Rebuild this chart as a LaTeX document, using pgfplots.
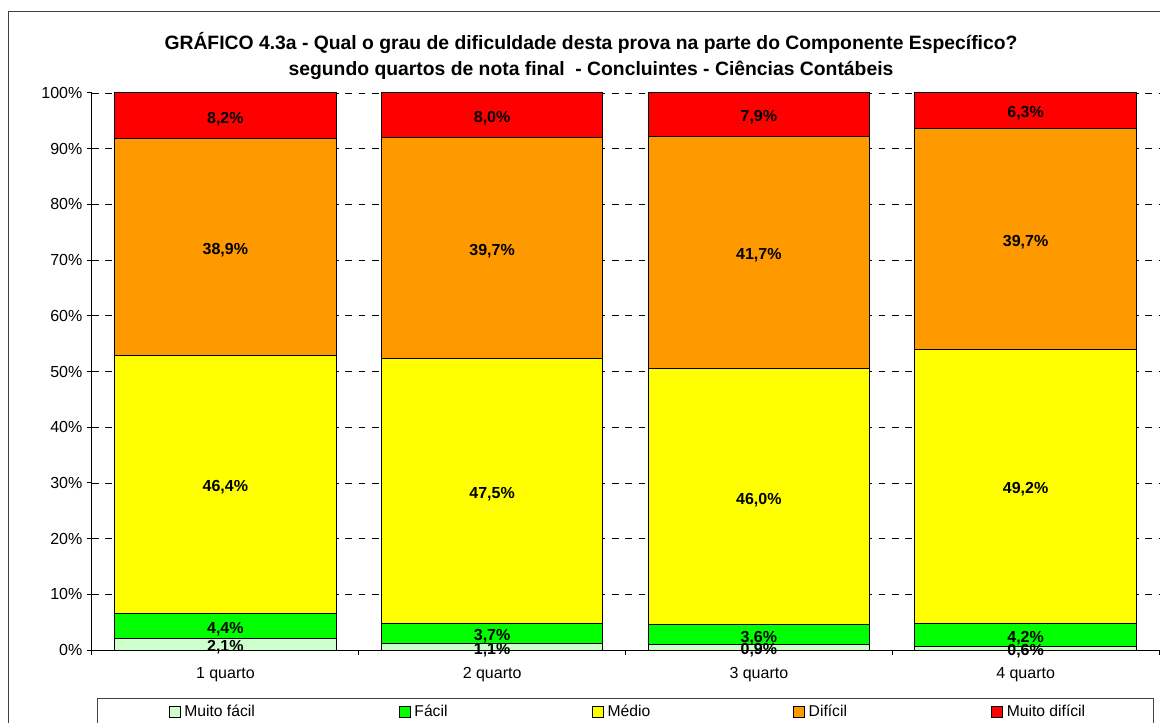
\documentclass[border=0pt]{standalone}
\usepackage{pgfplots}
\usepackage{pgfplotstable}
\pgfplotsset{compat=1.18}
\usepackage{fontspec}
\setmainfont{Liberation Sans}
\definecolor{cMF}{HTML}{CCFFCC}
\definecolor{cF}{HTML}{00FF00}
\definecolor{cM}{HTML}{FFFF00}
\definecolor{cD}{HTML}{FF9900}
\definecolor{cMD}{HTML}{FF0000}
\pgfplotstableread{
x mf f m d md
0 2.1 4.4 46.4 38.9 8.2
1 1.1 3.7 47.5 39.7 8.0
2 0.9 3.6 46.0 41.7 7.9
3 0.6 4.2 49.2 39.7 6.3
}\data
\pgfplotsset{sqlegend/.style={legend image code/.code={\draw[##1,draw=black,line width=0.6pt] (0pt,-4pt) rectangle (8pt,4pt);}}}
\begin{document}
\begin{tikzpicture}
\path[use as bounding box, clip] (0pt,0pt) rectangle (870pt,541.5pt);
\draw[line width=0.75pt, black!75] (6pt,532.5pt) rectangle (900pt,-30pt);
\begin{axis}[
  at={(69pt,54pt)}, anchor=south west,
  scale only axis, width=800.25pt, height=417.75pt,
  ybar stacked, bar width=0.83,
  xmin=-0.5, xmax=3.5, ymin=0, ymax=100, clip=false,
  axis x line*=bottom, axis y line*=left,
  axis line style={-, black, line width=0.75pt},
  tick align=outside, major tick length=3.75pt,
  tick style={black, line width=0.75pt},
  xtick={-0.5,0.5,1.5,2.5,3.5}, xticklabels={,,,,},
  extra x ticks={0,1,2,3},
  extra x tick labels={1 quarto,2 quarto,3 quarto,4 quarto},
  extra x tick style={major tick length=0pt, grid=none},
  xticklabel style={yshift=-9.5pt},
  ytick={0,10,...,100},
  yticklabels={0\%,10\%,20\%,30\%,40\%,50\%,60\%,70\%,80\%,90\%,100\%},
  ymajorgrids, major grid style={black, line width=0.6pt, dash pattern=on 5pt off 5pt},
  ticklabel style={font=\fontsize{12}{14}\selectfont},
  nodes near coords={\pgfmathprintnumber[fixed,fixed zerofill,precision=1,use comma,assume math mode=true]{\rawy}\%},
  visualization depends on={rawy \as \rawy},
  every node near coord/.append style={font=\bfseries\fontsize{12}{14}\selectfont, anchor=center, yshift=-2.25pt},
  legend columns=5,
  legend style={at={(0.0047,-0.0862)}, anchor=north west, draw=black!75, line width=0.75pt,
    inner xsep=53.5pt, inner ysep=3pt, font=\fontsize{11.75}{13}\selectfont,
    /tikz/every even column/.append style={column sep=0pt},
    /tikz/every odd column/.append style={column sep=0pt},
    nodes={inner xsep=3pt, inner ysep=2pt}},
]
\addplot[fill=cMF, draw=black, line width=0.75pt, sqlegend] table[x=x,y=mf]{\data};
\addlegendentry{\makebox[158pt][l]{Muito fácil}}
\addplot[fill=cF, draw=black, line width=0.75pt, sqlegend] table[x=x,y=f]{\data};
\addlegendentry{\makebox[130.25pt][l]{Fácil}}
\addplot[fill=cM, draw=black, line width=0.75pt, sqlegend] table[x=x,y=m]{\data};
\addlegendentry{\makebox[136.25pt][l]{Médio}}
\addplot[fill=cD, draw=black, line width=0.75pt, sqlegend] table[x=x,y=d]{\data};
\addlegendentry{\makebox[134pt][l]{Difícil}}
\addplot[fill=cMD, draw=black, line width=0.75pt, sqlegend] table[x=x,y=md]{\data};
\addlegendentry{\makebox[53.25pt][l]{Muito difícil}}
\end{axis}
\node[font=\bfseries\fontsize{14.5}{19.5}\selectfont, align=center] at (443.25pt,499.5pt)
  {GRÁFICO 4.3a - Qual o grau de dificuldade desta prova na parte do Componente Específico?\\
   segundo quartos de nota final~ - Concluintes - Ciências Contábeis};
\end{tikzpicture}
\end{document}
